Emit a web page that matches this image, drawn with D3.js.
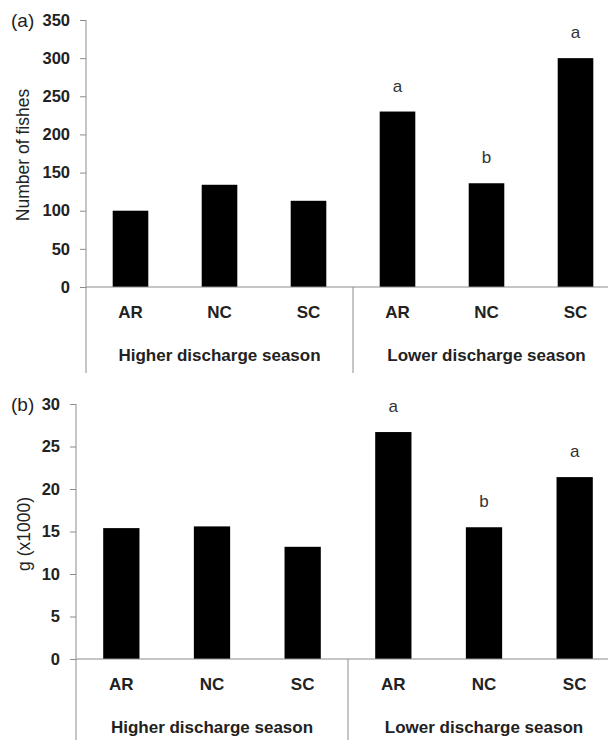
<!DOCTYPE html>
<html>
<head>
<meta charset="utf-8">
<script src="https://cdn.jsdelivr.net/npm/d3@7/dist/d3.min.js"></script>
<style>
  body { margin: 0; background: #fff; }
  svg text { font-family: "Liberation Sans", Arial, sans-serif; fill: #222; }
  .axis path, .axis line { stroke: #8c8c8c; }
  .axis text { font-size: 16.5px; font-weight: bold; fill: #222; }
</style>
</head>
<body>
<svg id="chart" width="608" height="740"></svg>
<script>
"use strict";

var sites = ["AR", "NC", "SC", "AR", "NC", "SC"];
var seasons = ["Higher discharge season", "Lower discharge season"];
var fishes = [100, 134, 113, 230, 136, 300];
var biomass = [15.4, 15.6, 13.2, 26.7, 15.5, 21.4];
var letters = ["", "", "", "a", "b", "a"];
var fishTicks = [0, 50, 100, 150, 200, 250, 300, 350];
var biomassTicks = [0, 5, 10, 15, 20, 25, 30];

var svg = d3.select("#chart");

function drawPanel(opt) {
   var xScale = d3.scaleBand()
                  .domain(d3.range(sites.length))
                  .range([opt.left, 620])
                  .paddingInner(0.6)
                  .paddingOuter(0.3);

   var yScale = d3.scaleLinear()
                  .domain([0, opt.max])
                  .range([opt.bottom, opt.top]);

   var g = svg.append("g");

   // bars
   g.selectAll("rect")
      .data(opt.data)
      .enter()
      .append("rect")
      .attr("x", function(d, i) { return xScale(i); })
      .attr("y", function(d) { return yScale(d); })
      .attr("width", xScale.bandwidth())
      .attr("height", function(d) { return opt.bottom - yScale(d); })
      .attr("fill", "#000");

   // significance letters
   g.selectAll(".sig")
      .data(opt.data)
      .enter()
      .append("text")
      .attr("class", "sig")
      .attr("x", function(d, i) { return xScale(i) + xScale.bandwidth() / 2; })
      .attr("y", function(d) { return yScale(d) - 20; })
      .attr("text-anchor", "middle")
      .style("font-size", "17px")
      .style("fill", "#333")
      .text(function(d, i) { return letters[i]; });

   // y axis
   var yAxis = d3.axisLeft(yScale)
                 .tickValues(opt.ticks)
                 .tickSizeInner(6)
                 .tickSizeOuter(0)
                 .tickPadding(10);

   var ya = g.append("g")
      .attr("class", "axis")
      .attr("transform", "translate(" + opt.left + ",0)")
      .call(yAxis);
   ya.select(".domain").remove();

   // vertical axis line running down through the category area
   g.append("line")
      .attr("x1", opt.left).attr("x2", opt.left)
      .attr("y1", opt.top).attr("y2", opt.axisEnd)
      .attr("stroke", "#8c8c8c");

   // baseline
   g.append("line")
      .attr("x1", opt.left).attr("x2", 620)
      .attr("y1", opt.bottom).attr("y2", opt.bottom)
      .attr("stroke", "#8c8c8c");

   // separator between the two seasons
   var sepX = (xScale(2) + xScale.bandwidth() + xScale(3)) / 2;
   g.append("line")
      .attr("x1", sepX).attr("x2", sepX)
      .attr("y1", opt.bottom).attr("y2", opt.axisEnd)
      .attr("stroke", "#8c8c8c");

   // category labels
   g.selectAll(".cat")
      .data(sites)
      .enter()
      .append("text")
      .attr("class", "cat")
      .attr("x", function(d, i) { return xScale(i) + xScale.bandwidth() / 2; })
      .attr("y", opt.bottom + 31)
      .attr("text-anchor", "middle")
      .style("font-size", "17px")
      .style("font-weight", "bold")
      .text(function(d) { return d; });

   // season labels
   g.selectAll(".season")
      .data(seasons)
      .enter()
      .append("text")
      .attr("class", "season")
      .attr("x", function(d, i) { return xScale(i * 3 + 1) + xScale.bandwidth() / 2; })
      .attr("y", opt.bottom + 74)
      .attr("text-anchor", "middle")
      .style("font-size", "17px")
      .style("font-weight", "bold")
      .text(function(d) { return d; });

   // y label
   g.append("text")
      .attr("transform", "translate(" + opt.labelX + "," + opt.labelY + ") rotate(-90)")
      .attr("text-anchor", "middle")
      .style("font-size", "17.5px")
      .text(opt.yLabel);

   // panel letter
   g.append("text")
      .attr("x", 11)
      .attr("y", opt.top + 7)
      .style("font-size", "19px")
      .text(opt.panel);
}

drawPanel({
   data: fishes, max: 350, ticks: fishTicks,
   left: 86, top: 20, bottom: 287, axisEnd: 373,
   yLabel: "Number of fishes", labelX: 29, labelY: 155, panel: "(a)"
});

drawPanel({
   data: biomass, max: 30, ticks: biomassTicks,
   left: 76, top: 404, bottom: 659, axisEnd: 740,
   yLabel: "g (x1000)", labelX: 30, labelY: 534, panel: "(b)"
});
</script>
</body>
</html>
